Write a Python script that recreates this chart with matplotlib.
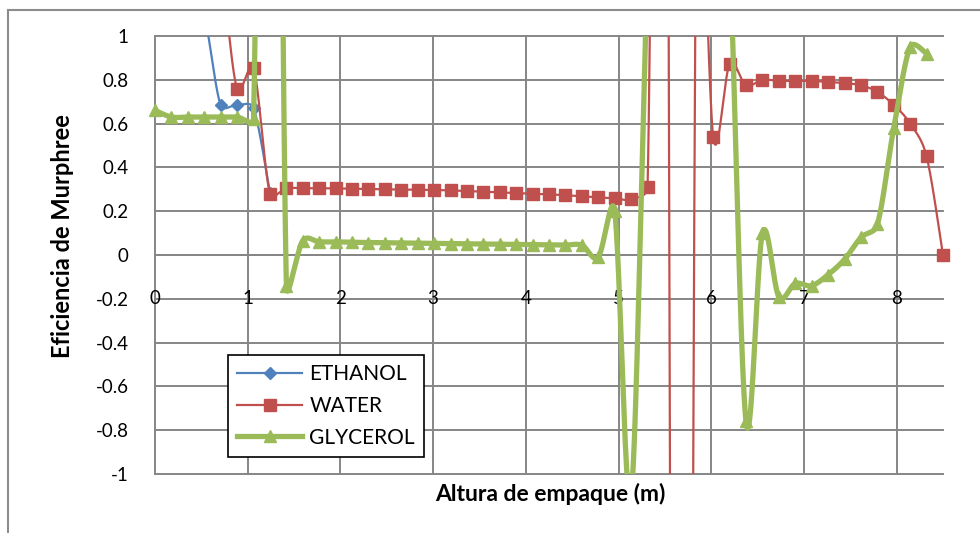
import numpy as np
import matplotlib
matplotlib.use("Agg")
import matplotlib.pyplot as plt
from matplotlib.lines import Line2D

# packing height (m) at each calculation point
heights = [0.000, 0.177, 0.354, 0.531, 0.708, 0.885, 1.063, 1.240, 1.417, 1.594,
           1.771, 1.948, 2.125, 2.302, 2.479, 2.656, 2.833, 3.010, 3.188, 3.365,
           3.542, 3.719, 3.896, 4.073, 4.250, 4.427, 4.604, 4.781, 4.958, 5.135,
           5.313, 5.490, 5.667, 5.844, 6.021, 6.198, 6.375, 6.552, 6.729, 6.906,
           7.083, 7.260, 7.438, 7.615, 7.792, 7.969, 8.146, 8.323, 8.500]

# Murphree efficiencies per component
ethanol = [1.6, 1.45, 1.3, 1.1, 0.685, 0.685, 0.67, 0.285]

water = [1.9, 1.75, 1.6, 1.45, 1.3, 0.76, 0.855, 0.28, 0.305, 0.305,
         0.305, 0.304, 0.303, 0.302, 0.300, 0.299, 0.298, 0.297, 0.295, 0.292,
         0.289, 0.286, 0.283, 0.280, 0.277, 0.273, 0.268, 0.263, 0.259, 0.254,
         0.31, 6.0, -14.0, 2.0, 0.54, 0.87, 0.775, 0.80, 0.795, 0.795,
         0.795, 0.79, 0.785, 0.775, 0.745, 0.685, 0.60, 0.45, 0.0]

glycerol = [0.66, 0.63, 0.63, 0.63, 0.63, 0.63, 0.62, 7.0, -0.14, 0.065,
            0.06, 0.06, 0.058, 0.057, 0.056, 0.055, 0.054, 0.053, 0.052, 0.051,
            0.05, 0.049, 0.048, 0.047, 0.046, 0.045, 0.045, -0.01, 0.2, -1.1,
            1.3, 3.0, 4.0, 4.0, 3.0, 1.4, -0.76, 0.1, -0.19, -0.13,
            -0.14, -0.09, -0.02, 0.08, 0.14, 0.58, 0.95, 0.92]

x_ticks = [0, 1, 2, 3, 4, 5, 6, 7, 8]
y_ticks = [-1, -0.8, -0.6, -0.4, -0.2, 0, 0.2, 0.4, 0.6, 0.8, 1]
y_labels = ["-1", "-0.8", "-0.6", "-0.4", "-0.2", "0", "0.2", "0.4", "0.6", "0.8", "1"]

plt.rcParams['font.family'] = ['Lato', 'DejaVu Sans']

W, H = 980, 533
fig = plt.figure(figsize=(W / 100, H / 100), dpi=100)
left, right, top, bottom = 155, 943, 36, 474
ax = fig.add_axes([left / W, (H - bottom) / H, (right - left) / W, (bottom - top) / H])
xmin, xmax, ymin, ymax = 0, 8.5, -1, 1
ax.set_xlim(xmin, xmax)
ax.set_ylim(ymin, ymax)

# pixels per data unit, smoothing is done in screen space
sx = (right - left) / (xmax - xmin)
sy = (bottom - top) / (ymax - ymin)


def smooth_line(xs, ys, steps=80):
    p = np.column_stack([np.asarray(xs, float) * sx, np.asarray(ys, float) * sy])
    n = len(p)
    out = [p[0]]
    t = np.linspace(0, 1, steps)[1:, None]
    for i in range(n - 1):
        p0 = p[i - 1] if i > 0 else p[i]
        p1, p2 = p[i], p[i + 1]
        p3 = p[i + 2] if i + 2 < n else p[i + 1]
        d12 = np.hypot(*(p2 - p1))
        d02 = np.hypot(*(p2 - p0))
        d13 = np.hypot(*(p3 - p1))
        f = 1 / 6 if d02 / 6 < d12 / 2 else d12 / (2 * d02)
        g = 1 / 6 if d13 / 6 < d12 / 2 else d12 / (2 * d13)
        c1 = p1 + f * (p2 - p0)
        c2 = p2 - g * (p3 - p1)
        seg = (1 - t) ** 3 * p1 + 3 * (1 - t) ** 2 * t * c1 + 3 * (1 - t) * t ** 2 * c2 + t ** 3 * p2
        out.extend(seg)
    out = np.array(out)
    return out[:, 0] / sx, out[:, 1] / sy


grid_c = "#868686"
for yv in y_ticks:
    ax.axhline(yv, color=grid_c, lw=1.4, clip_on=False, zorder=0.5)
for xv in x_ticks:
    ax.axvline(xv, color=grid_c, lw=1.4, clip_on=False, zorder=0.5)

series = [
    ("ETHANOL", ethanol, "#4F81BD", 1.6, "D", 6.5),
    ("WATER", water, "#C0504D", 1.6, "s", 8.5),
    ("GLYCEROL", glycerol, "#9BBB59", 3.8, "^", 9),
]
handles = []
for k, (name, vals, col, lw, mk, ms) in enumerate(series):
    xs = heights[:len(vals)]
    cx, cy = smooth_line(xs, vals)
    ax.plot(cx, cy, color=col, lw=lw, solid_capstyle='butt', zorder=2 + k)
    vis = [(a, b) for a, b in zip(xs, vals) if ymin <= b <= ymax]
    ax.plot([a for a, b in vis], [b for a, b in vis], ls='none', marker=mk, ms=ms,
            color=col, mec=col, clip_on=False, zorder=2 + k)
    handles.append(Line2D([], [], color=col, lw=lw, marker=mk, ms=ms, mec=col))

for s in ['top', 'right', 'left']:
    ax.spines[s].set_visible(False)
ax.spines['bottom'].set_position(('data', 0))
ax.spines['bottom'].set_color(grid_c)
ax.spines['bottom'].set_linewidth(1.4)

ax.set_xticks(x_ticks)
ax.set_xticklabels([str(v) for v in x_ticks])
ax.set_yticks(y_ticks)
ax.set_yticklabels(y_labels)
ax.tick_params(axis='x', length=0, pad=25, labelsize=13.5)
ax.tick_params(axis='y', length=0, pad=19, labelsize=13.5)

fig.text(62 / W, 1 - 236 / H, "Eficiencia de Murphree", rotation=90, ha='center', va='center',
         fontsize=17, fontweight='bold')
fig.text(550 / W, 1 - 494 / H, "Altura de empaque (m)", ha='center', va='center',
         fontsize=16.5, fontweight='bold')

leg = fig.legend(handles, ["ETHANOL", "WATER", "GLYCEROL"], loc='upper left',
                 bbox_to_anchor=(228 / W, 1 - 355 / H), bbox_transform=fig.transFigure,
                 frameon=True, fancybox=False, framealpha=1, edgecolor='black',
                 fontsize=15, handlelength=3.1, labelspacing=0.56, borderpad=0.45,
                 handletextpad=0.35, borderaxespad=0)
leg.get_frame().set_linewidth(1.2)

# chart border
fig.add_artist(Line2D([8 / W, 8 / W], [0, 1 - 10 / H], color="#8c8c8c", lw=1.5))
fig.add_artist(Line2D([8 / W, 1], [1 - 10 / H, 1 - 10 / H], color="#8c8c8c", lw=1.5))

fig.savefig("out.png", dpi=100)
